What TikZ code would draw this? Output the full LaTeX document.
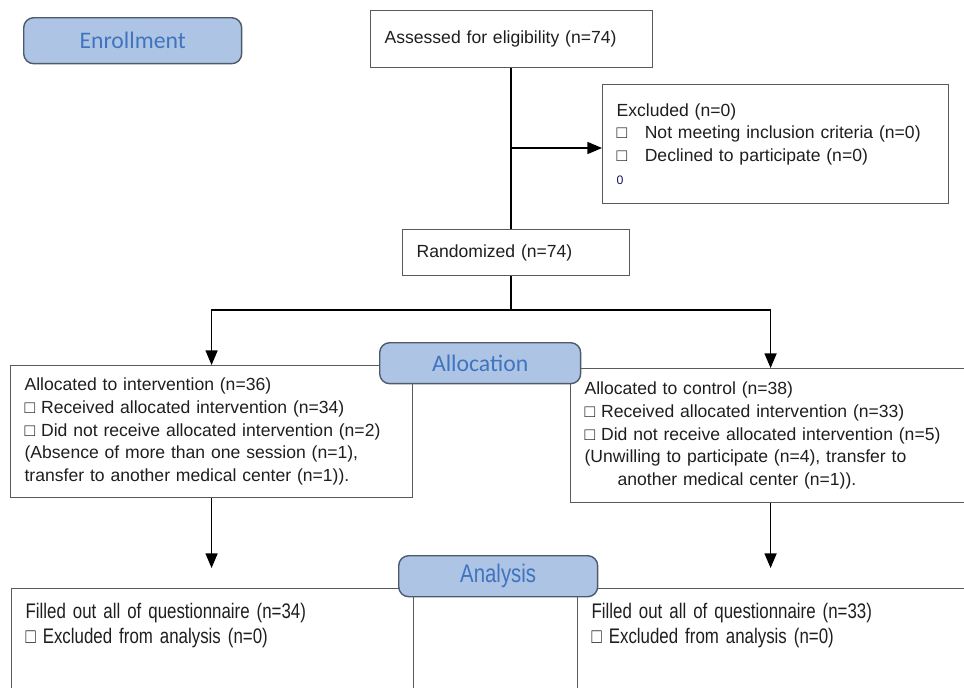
\documentclass[tikz,border=0pt]{standalone}
\usepackage{fontspec}
\setmainfont{Liberation Sans}
\newfontfamily\calibri{Carlito}
\newfontfamily\narrow[FakeStretch=0.8]{Liberation Sans}
\usepackage{tikz}
\usetikzlibrary{positioning, calc, arrows}
\tikzset{>=triangle 45}
\definecolor{stagefill}{HTML}{AEC4E5}
\definecolor{stagetext}{HTML}{3F74BE}
\definecolor{stagedraw}{HTML}{4D5A6B}
\definecolor{boxdraw}{HTML}{5A5A5A}
\definecolor{ink}{HTML}{1E1E1E}

\begin{document}
\begin{tikzpicture}
    [x=0.02cm, y=-0.02cm,
     flowbox/.style={draw=boxdraw, line width=0.7pt, anchor=north west, align=left, inner xsep=0.28cm, inner ysep=0pt, text=ink, font=\fontsize{10}{13}\selectfont},
     lowbox/.style={flowbox, inner ysep=0.3cm, text depth=3cm, font=\narrow\fontsize{12}{14}\selectfont},
     stage/.style={draw=stagedraw, fill=stagefill, line width=0.8pt, rounded corners=2mm, anchor=north west, minimum height=0.82cm, text=stagetext, font=\calibri\fontsize{13.5}{16}\selectfont},
     link/.style={draw=black, line width=0.9pt}]
    \clip (0,0) rectangle (964,687);

    \node[flowbox, text width=5.08cm, minimum height=1.14cm] (assess) at (370,10) {Assessed for eligibility (n=74)};
    \node[flowbox, text width=6.36cm, minimum height=2.38cm] (excluded) at (602,84)
        {Excluded (n=0)\\ □\hspace{1.0em}Not meeting inclusion criteria (n=0)\\ □\hspace{1.0em}Declined to participate (n=0)\\ {\fontsize{7}{9}\selectfont\color{ink!70!blue}0}};
    \node[flowbox, text width=3.98cm, minimum height=0.92cm] (random) at (402,229) {Randomized (n=74)};

    \node[flowbox, text width=7.48cm, minimum height=2.64cm] (interv) at (10,365)
        {Allocated to intervention (n=36)\\ □ Received allocated intervention (n=34)\\ □ Did not receive allocated intervention (n=2)\\ (Absence of more than one session (n=1),\\ transfer to another medical center (n=1)).};
    \node[flowbox, text width=7.44cm, minimum height=2.68cm] (control) at (570,368)
        {Allocated to control (n=38)\\ □ Received allocated intervention (n=33)\\ □ Did not receive allocated intervention (n=5)\\ (Unwilling to participate (n=4), transfer to\\ \hspace*{0.66cm}another medical center (n=1)).};

    \node[lowbox, text width=7.48cm] (anaInterv) at (11,588)
        {Filled out all of questionnaire (n=34)\\ □ Excluded from analysis (n=0)};
    \node[lowbox, text width=7.44cm] (anaControl) at (577,588)
        {Filled out all of questionnaire (n=33)\\ □ Excluded from analysis (n=0)};

    \coordinate (split) at (511,148);
    \coordinate (fork) at (511,310);
    \coordinate (endL) at (211,568);
    \coordinate (endR) at (770,568);
    \draw[link] (fork |- assess.south) -- (fork |- random.north);
    \draw[link, ->] (split) -- (split -| excluded.west);
    \draw[link] (fork |- random.south) -- (fork);
    \draw[link, ->] (fork) -| (interv.north);
    \draw[link, ->] (fork) -| (control.north);
    \draw[link, ->] (interv.south) -- (interv.south |- endL);
    \draw[link, ->] (control.south) -- (control.south |- endR);

    \node[stage, minimum width=4.36cm, minimum height=0.92cm] (enroll) at (23,17) {Enrollment};
    \node[stage, minimum width=4.02cm] (allocation) at (379,342) {Allocation};
    \node[stage, minimum width=3.98cm, font=\narrow\fontsize{14.5}{16}\selectfont] (analysis) at (398,555) {Analysis};
\end{tikzpicture}
\end{document}
